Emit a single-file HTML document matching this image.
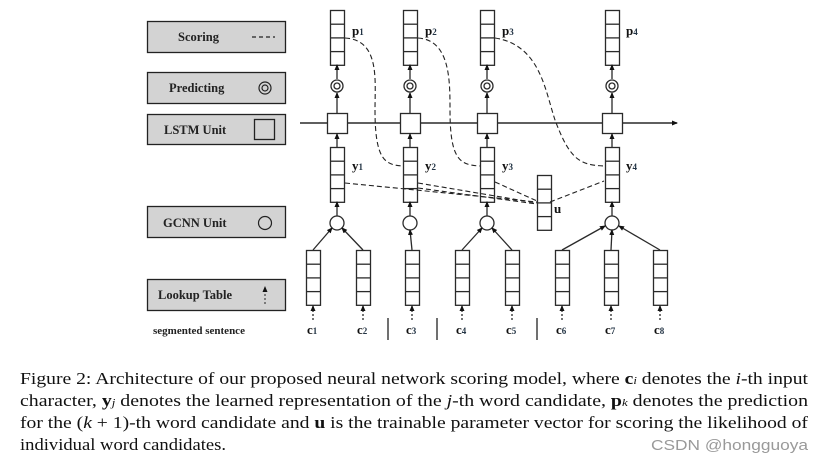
<!DOCTYPE html>
<html><head><meta charset="utf-8"><style>
html,body{margin:0;padding:0;background:#fff;width:830px;height:464px;overflow:hidden}
svg{display:block}
.lb{font-family:"Liberation Serif",serif;font-weight:bold;font-size:12.5px;fill:#222}
.cap{font-family:"Liberation Serif",serif;font-size:17px;fill:#111}
.sub{font-family:"Liberation Serif",serif;font-weight:bold;font-size:13px;fill:#111}
.ss{font-family:"Liberation Serif",serif;font-size:9px;fill:#234}
</style></head><body>
<svg id="s" width="830" height="464" xmlns="http://www.w3.org/2000/svg">
<defs><marker id="a" markerWidth="6" markerHeight="6" refX="5" refY="3" orient="auto" markerUnits="userSpaceOnUse"><path d="M0,0.5 L6,3 L0,5.5z" fill="#111"/></marker></defs>
<g stroke="#222" stroke-width="1.3" fill="#d3d3d3">
<rect x="147.5" y="21.5" width="138" height="31"/>
<rect x="147.5" y="72.5" width="138" height="31"/>
<rect x="147.5" y="114.5" width="138" height="30"/>
<rect x="147.5" y="206.5" width="138" height="31"/>
<rect x="147.5" y="279.5" width="138" height="31"/>
</g>
<text class="lb" x="178" y="41">Scoring</text>
<line x1="252" y1="37" x2="275" y2="37" stroke="#222" stroke-width="1.3" stroke-dasharray="4,3"/>
<text class="lb" x="169" y="92">Predicting</text>
<circle cx="265" cy="88" r="6" fill="none" stroke="#222" stroke-width="1.2"/><circle cx="265" cy="88" r="3" fill="none" stroke="#222" stroke-width="1.2"/>
<text class="lb" x="164" y="134">LSTM Unit</text>
<rect x="254.5" y="119.5" width="20" height="20" fill="#d3d3d3" stroke="#222" stroke-width="1.3"/>
<text class="lb" x="163" y="227">GCNN Unit</text>
<circle cx="265" cy="223" r="6.5" fill="none" stroke="#222" stroke-width="1.2"/>
<text class="lb" x="158" y="299">Lookup Table</text>
<line x1="265" y1="304" x2="265" y2="287" stroke="#222" stroke-dasharray="2,2" marker-end="url(#a)"/>
<text class="lb" x="153" y="334" style="font-size:11px">segmented sentence</text>
<g id="g" fill="none" stroke="#2a2a2a" stroke-width="1.3"></g>
<g fill="none" stroke="#222" stroke-width="1.1" stroke-dasharray="5,3">
<path d="M345,38 C380,40 375,80 375,110 C375,160 385,165 403,166"/>
<path d="M418,38 C450,40 450,80 450,110 C450,160 460,165 480,166"/>
<path d="M495,38 C540,45 545,90 555,120 C570,160 580,165 604,166"/>
<path d="M345,183 L537,202"/><path d="M418,183 L537,203"/><path d="M418,188 L537,204"/><path d="M495,182 L537,201"/><path d="M550,202 L604,181"/>
</g>
<g class="sub"><text x="352" y="35">p<tspan class="ss" dy="0">1</tspan></text><text x="425" y="35">p<tspan class="ss">2</tspan></text><text x="502" y="35">p<tspan class="ss">3</tspan></text><text x="626" y="35">p<tspan class="ss">4</tspan></text>
<text x="352" y="170">y<tspan class="ss">1</tspan></text><text x="425" y="170">y<tspan class="ss">2</tspan></text><text x="502" y="170">y<tspan class="ss">3</tspan></text><text x="626" y="170">y<tspan class="ss">4</tspan></text>
<text x="554" y="213">u</text>
<text x="307" y="334">c<tspan class="ss">1</tspan></text><text x="357" y="334">c<tspan class="ss">2</tspan></text><text x="406" y="334">c<tspan class="ss">3</tspan></text><text x="456" y="334">c<tspan class="ss">4</tspan></text><text x="506" y="334">c<tspan class="ss">5</tspan></text><text x="556" y="334">c<tspan class="ss">6</tspan></text><text x="605" y="334">c<tspan class="ss">7</tspan></text><text x="654" y="334">c<tspan class="ss">8</tspan></text></g>
<g stroke="#222" stroke-width="1.3"><line x1="388" y1="318" x2="388" y2="340"/><line x1="437" y1="318" x2="437" y2="340"/><line x1="537" y1="318" x2="537" y2="340"/></g>
<g class="cap">
<text x="20" y="384" textLength="788" lengthAdjust="spacingAndGlyphs">Figure 2: Architecture of our proposed neural network scoring model, where <tspan font-weight="bold">c</tspan><tspan font-size="11" font-style="italic">i</tspan> denotes the <tspan font-style="italic">i</tspan>-th input</text>
<text x="20" y="406" textLength="788" lengthAdjust="spacingAndGlyphs">character, <tspan font-weight="bold">y</tspan><tspan font-size="11" font-style="italic">j</tspan> denotes the learned representation of the <tspan font-style="italic">j</tspan>-th word candidate, <tspan font-weight="bold">p</tspan><tspan font-size="11" font-style="italic">k</tspan> denotes the prediction</text>
<text x="20" y="428" textLength="788" lengthAdjust="spacingAndGlyphs">for the (<tspan font-style="italic">k</tspan> + 1)-th word candidate and <tspan font-weight="bold">u</tspan> is the trainable parameter vector for scoring the likelihood of</text>
<text x="20" y="450" textLength="206" lengthAdjust="spacingAndGlyphs">individual word candidates.</text>
</g>
<text x="651" y="450" font-family="Liberation Sans,sans-serif" font-size="15" fill="#999" textLength="157" lengthAdjust="spacingAndGlyphs">CSDN @hongguoya</text>
</svg>
<script>
var g=document.getElementById('g'),o='';
function box(cx,y,n,h){var x=cx-7;o+='<rect x="'+(x+.5)+'" y="'+(y+.5)+'" width="14" height="'+n*h+'"/>';for(var i=1;i<n;i++)o+='<line x1="'+x+'" x2="'+(x+14)+'" y1="'+(y+.5+i*h)+'" y2="'+(y+.5+i*h)+'"/>';}
function ar(x1,y1,x2,y2,d){o+='<line x1="'+x1+'" y1="'+y1+'" x2="'+x2+'" y2="'+y2+'" marker-end="url(#a)"'+(d?' stroke-dasharray="2,2"':'')+'/>';}
o+='<line x1="300" y1="123" x2="677" y2="123" stroke-width="1.4" marker-end="url(#a)"/>';
[337,410,487,612].forEach(function(c){box(c,10,4,13.7);o+='<circle cx="'+c+'" cy="86" r="6"/><circle cx="'+c+'" cy="86" r="3"/>';
o+='<rect x="'+(c-10+.5)+'" y="113.5" width="20" height="20" fill="#fff"/>';box(c,147,4,13.7);o+='<circle cx="'+c+'" cy="223" r="7"/>';
ar(c,79,c,65);ar(c,113,c,93);ar(c,147,c,134);ar(c,216,c,202);});
box(544,175,4,13.7);
[313,363,412,462,512,562,611,660].forEach(function(c){box(c,250,4,13.7);ar(c,320,c,306,1);});
ar(313,250,332,228);ar(363,250,342,228);ar(412,250,410,230);ar(462,250,482,228);ar(512,250,492,228);
ar(562,250,605,226);ar(611,250,612,230);ar(660,250,619,226);
g.innerHTML=o;
</script>
</body></html>
